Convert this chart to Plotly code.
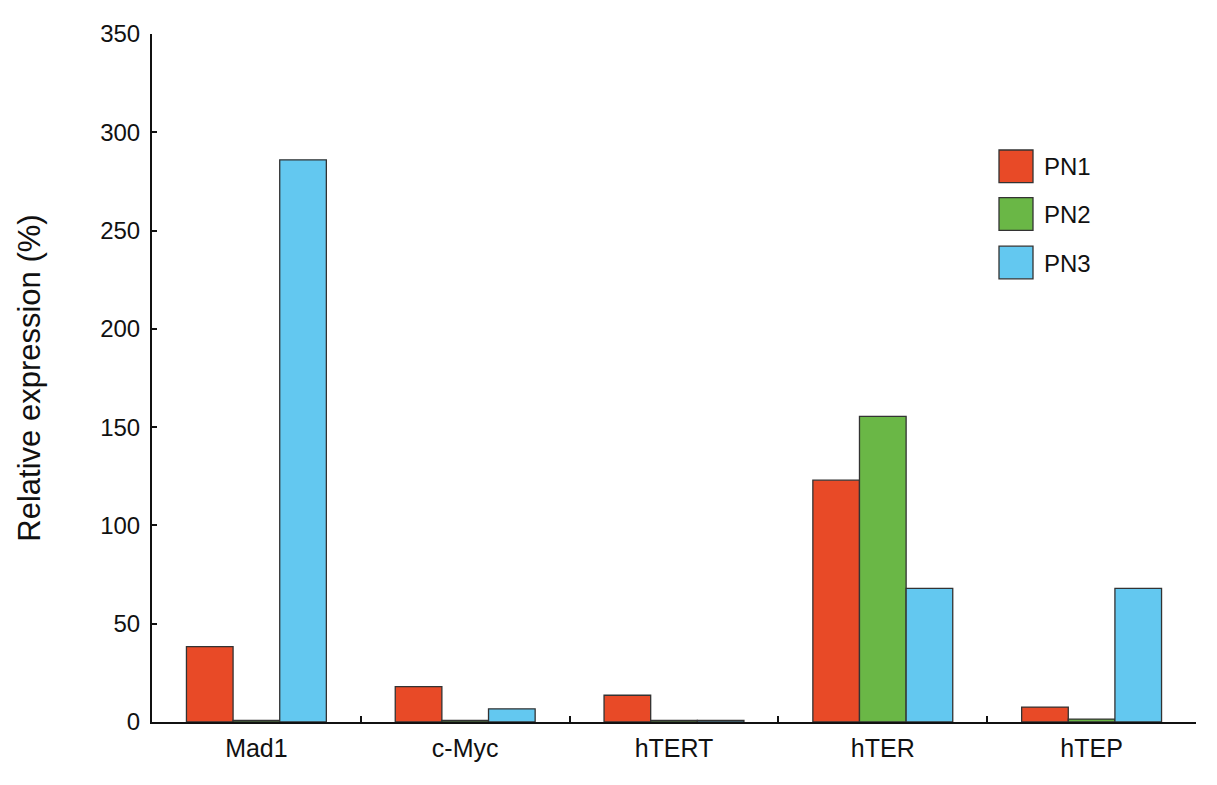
import plotly.graph_objects as go

categories = ["Mad1", "c-Myc", "hTERT", "hTER", "hTEP"]
series_names = ["PN1", "PN2", "PN3"]
pn1 = [38.3, 18.0, 13.6, 123.0, 7.6]
pn2 = [0.8, 0.8, 0.8, 155.5, 1.5]
pn3 = [286.0, 6.7, 0.8, 68.0, 68.0]
colors = ["#E84A27", "#6AB746", "#63C8F0"]
y_ticks = [0, 50, 100, 150, 200, 250, 300, 350]

FONT = "Liberation Sans, Arial, sans-serif"
OFF = 8  # page body margin
W, H = 1217 - OFF, 785 - OFF
L, R, T, B = 152 - OFF, 21, 28 - OFF, 63
PW, PH = W - L - R, H - T - B

fig = go.Figure()
for name, vals, col in zip(series_names, [pn1, pn2, pn3], colors):
    fig.add_trace(go.Bar(
        x=categories, y=vals, name=name,
        marker=dict(color=col, line=dict(color="#333333", width=1.3)),
        showlegend=False,
    ))

# manual legend with large square swatches (positions in screen pixels)
def px_to_paper_x(px):
    return (px - 152) / PW

def px_to_paper_y(py):
    return (722 - py) / PH

box_tops = [145, 193, 242]
for name, col, top in zip(series_names, colors, box_tops):
    fig.add_shape(type="rect", xref="paper", yref="paper",
                  x0=px_to_paper_x(999), x1=px_to_paper_x(1033),
                  y0=px_to_paper_y(top + 33), y1=px_to_paper_y(top),
                  fillcolor=col, line=dict(color="#333333", width=1.3))
    fig.add_annotation(xref="paper", yref="paper",
                       x=px_to_paper_x(1042), y=px_to_paper_y(top + 17),
                       text=name, showarrow=False, xanchor="left", yanchor="middle",
                       font=dict(family=FONT, size=24, color="#111111"))

fig.update_layout(
    width=W, height=H,
    margin=dict(l=L, r=R, t=T, b=B, pad=0),
    paper_bgcolor="white", plot_bgcolor="white",
    barmode="group", bargap=0.33, bargroupgap=0,
    font=dict(family=FONT, size=24, color="#111111"),
    xaxis=dict(
        type="category", range=[-0.5, 4.5],
        showline=True, linecolor="#111111", linewidth=2,
        ticks="inside", tickson="boundaries", ticklen=6, tickwidth=2, tickcolor="#111111",
        showgrid=False, zeroline=False, ticklabelstandoff=3,
        tickfont=dict(family=FONT, size=25, color="#111111"),
    ),
    yaxis=dict(
        range=[0, 350], tickvals=y_ticks,
        showline=True, linecolor="#111111", linewidth=2,
        ticks="inside", ticklen=5, tickwidth=2, tickcolor="#111111",
        showgrid=False, zeroline=False, ticklabelstandoff=5,
        tickfont=dict(family=FONT, size=24, color="#111111"),
        title=dict(text="Relative expression (%)", font=dict(family=FONT, size=31, color="#111111"), standoff=50),
    ),
)

fig.write_html("out.html")
